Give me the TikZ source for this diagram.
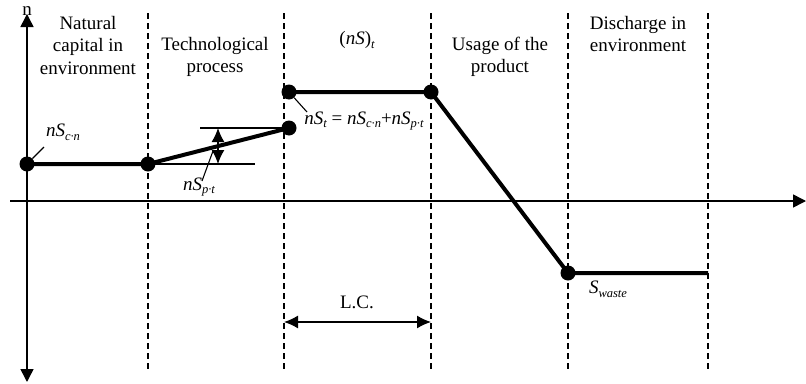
\documentclass[tikz,border=0pt]{standalone}
\usepackage{fontspec}
\setmainfont{Liberation Serif}
\usetikzlibrary{arrows.meta}
\newcommand{\lowtxt}[1]{\raisebox{-0.45ex}{\fontsize{12.5}{12.5}\selectfont\itshape #1}}

\begin{document}
\begin{tikzpicture}[
  x=1pt,y=-1pt,
  every node/.style={font=\fontsize{19}{22.5}\selectfont},
  axis/.style={line width=1.5pt,-{Triangle[length=13pt,width=13pt]}},
  axisboth/.style={line width=1.5pt,{Triangle[length=13pt,width=13pt]}-{Triangle[length=13pt,width=13pt]}},
  phase/.style={line width=1.3pt,dash pattern=on 6pt off 4pt},
  flow/.style={line width=4pt},
  dot/.style={circle,fill=black,inner sep=0pt,minimum size=15pt},
  guide/.style={line width=1.3pt},
  leader/.style={line width=1.1pt},
  dim/.style={line width=1.3pt,{Latex[length=14pt,width=13pt]}-{Latex[length=14pt,width=13pt]}},
  phasetext/.style={align=center,inner sep=0pt}
]
\useasboundingbox (0,0) rectangle (806,383);

% axes
\coordinate (xleft) at (10,201);
\coordinate (xright) at (806,201);
\coordinate (ytop) at (27,14);
\coordinate (ybot) at (27,382);
\draw[axis] (xleft) -- (xright);
\draw[axisboth] (ybot) -- (ytop);
\node[anchor=base,inner sep=0pt] (yname) at (27,15) {n};

% phase borders
\foreach \x in {148,284,431,568,708}
  \draw[phase] (\x,13) -- (\x,372);

% phase titles
\node[phasetext] (t1) at (88,45) {Natural\\capital in\\environment};
\node[phasetext] (t2) at (215,57) {Technological\\process};
\node[phasetext] (t3) at (357,40) {(\textit{nS})\lowtxt{t}};
\node[phasetext] (t4) at (500,57) {Usage of the\\product};
\node[phasetext] (t5) at (638,34) {Discharge in\\environment};

% points
\node[dot] (p1) at (27,164) {};
\node[dot] (p2) at (148,164) {};
\node[dot] (p3) at (289,128) {};
\node[dot] (p4) at (289,92) {};
\node[dot] (p5) at (431,92) {};
\node[dot] (p6) at (568,273) {};
\coordinate (pend) at (708,273);

\draw[flow] (p1.center) -- (p2.center) -- (p3.center);
\draw[flow] (p4.center) -- (p5.center) -- (p6.center) -- (pend);

% increase in technological process
\coordinate (upl) at (200,128);
\coordinate (lowr) at (255,164);
\coordinate (dimtop) at (218,128);
\coordinate (dimbot) at (218,164);
\draw[guide] (upl) -- (p3.center);
\draw[guide] (p2.center) -- (lowr);
\draw[dim] (dimtop) -- (dimbot);

% labels
\node (lcn) at (63,132) {\textit{nS}\lowtxt{c·n}};
\node (lpt) at (199,187) {\textit{nS}\lowtxt{p·t}};
\node (lt) at (364,121) {\textit{nS}\lowtxt{t} = \textit{nS}\lowtxt{c·n}+\textit{nS}\lowtxt{p·t}};
\node (lw) at (608,289) {\textit{S}\lowtxt{waste}};
\coordinate (cnend) at (44,147);
\coordinate (ptbeg) at (202,181);
\coordinate (ptend) at (213,151);
\coordinate (tend) at (307,112);
\draw[leader] (cnend) -- (p1);
\draw[leader] (ptbeg) -- (ptend);
\draw[leader] (p4) -- (tend);

% life cycle
\coordinate (lca) at (284,322);
\coordinate (lcb) at (431,322);
\draw[dim] (lca) -- (lcb);
\node (lc) at (357,302) {L.C.};
\end{tikzpicture}
\end{document}
